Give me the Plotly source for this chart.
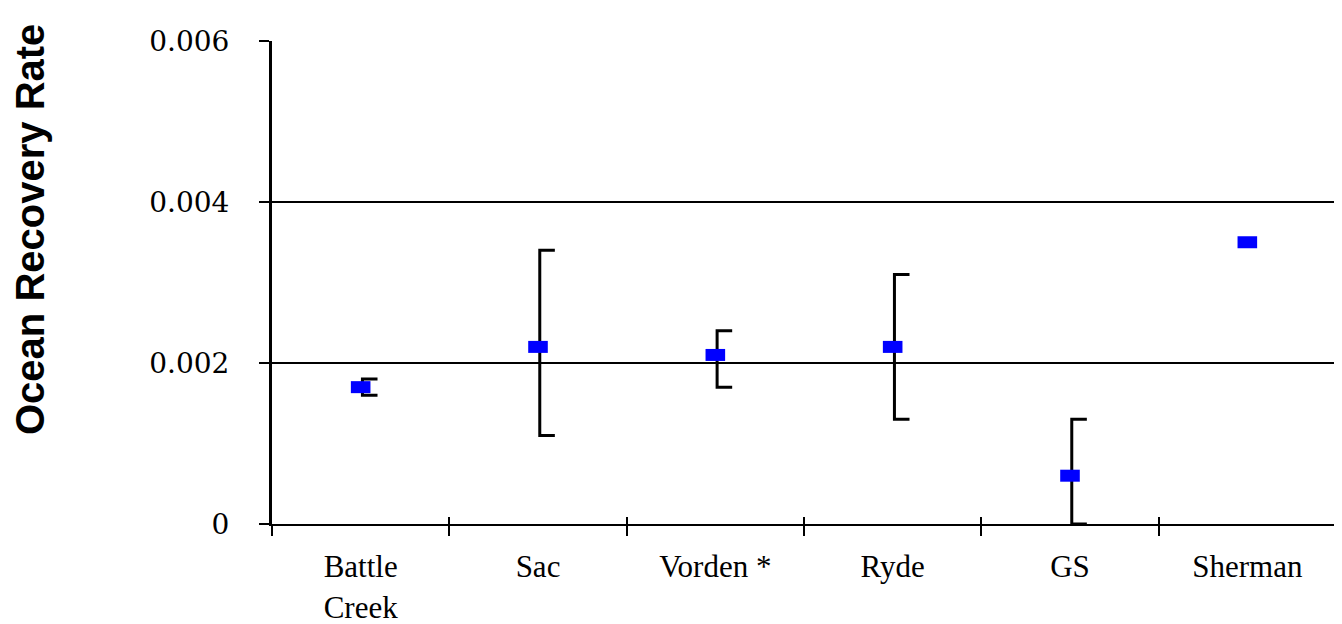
import plotly.graph_objects as go

categories = ["Battle<br>Creek", "Sac", "Vorden *", "Ryde", "GS", "Sherman"]
rate = [0.0017, 0.0022, 0.0021, 0.0022, 0.0006, 0.0035]
upper = [0.0018, 0.0034, 0.0024, 0.0031, 0.0013, None]
lower = [0.0016, 0.0011, 0.0017, 0.0013, 0.0000, None]
y_ticks = [0, 0.002, 0.004, 0.006]
y_ticktext = ["0", "0.002", "0.004", "0.006"]

xpos = list(range(len(categories)))
boundaries = [i - 0.5 for i in range(len(categories) + 1)]

# bracket-style error bars (caps drawn to the right only)
off = 0.01
cap = 0.085
ex, ey = [], []
for x, hi, lo in zip(xpos, upper, lower):
    if hi is None or lo is None:
        continue
    ex += [x + off + cap, x + off, x + off, x + off + cap, None]
    ey += [hi, hi, lo, lo, None]

fig = go.Figure()
fig.add_trace(go.Scatter(x=ex, y=ey, mode="lines",
                         line=dict(color="black", width=3),
                         hoverinfo="skip", showlegend=False))
fig.add_trace(go.Scatter(x=xpos, y=rate, mode="markers",
                         marker=dict(symbol="line-ew", size=14,
                                     line=dict(color="#0000FF", width=12)),
                         showlegend=False))
# invisible trace for the secondary (tick) axis
fig.add_trace(go.Scatter(x=[xpos[0]], y=[rate[0]], xaxis="x2", mode="markers",
                         marker=dict(opacity=0), hoverinfo="skip", showlegend=False))

L, T, PW, PH = 264, 33, 1064, 483
fig.update_layout(
    width=1342, height=624,
    margin=dict(l=L, r=1342 - L - PW, t=T, b=624 - T - PH, autoexpand=False),
    plot_bgcolor="white", paper_bgcolor="white",
    xaxis=dict(range=[-0.5, 5.5], tickmode="array", tickvals=xpos, ticktext=categories,
               ticks="", showgrid=False, zeroline=False, automargin=False,
               showline=True, linecolor="black", linewidth=2, mirror=False,
               tickfont=dict(family="Liberation Serif", size=31, color="black"),
               ticklabelstandoff=14,
               minor=dict(tickmode="array", tickvals=boundaries, ticks="outside",
                          ticklen=10, tickwidth=2, tickcolor="black", showgrid=False)),
    xaxis2=dict(range=[-0.5, 5.5], overlaying="x", anchor="y", side="bottom",
                tickmode="array", tickvals=boundaries, ticks="inside", ticklen=7,
                tickwidth=2, tickcolor="black", showticklabels=False, automargin=False,
                showgrid=False, zeroline=False, showline=False),
    yaxis=dict(range=[0, 0.006], tickmode="array", tickvals=y_ticks, ticktext=y_ticktext,
               ticks="outside", ticklen=10, tickwidth=2, tickcolor="black",
               showgrid=True, gridcolor="black", gridwidth=2, zeroline=False,
               showline=True, linecolor="black", linewidth=3, mirror=True, automargin=False,
               tickfont=dict(family="DejaVu Serif", size=28, color="black"),
               ticklabelstandoff=24),
    shapes=[dict(type="line", xref="paper", yref="paper", x0=1, x1=1, y0=0, y1=1,
                 line=dict(color="black", width=3))],
    annotations=[dict(text="<b>Ocean Recovery Rate</b>", textangle=-90,
                      xref="paper", yref="paper", x=(22 - L) / PW, y=(T + PH - 222) / PH,
                      xanchor="center", yanchor="middle", showarrow=False,
                      font=dict(family="Liberation Sans", size=40, color="black"))],
)

fig.write_html("out.html")
